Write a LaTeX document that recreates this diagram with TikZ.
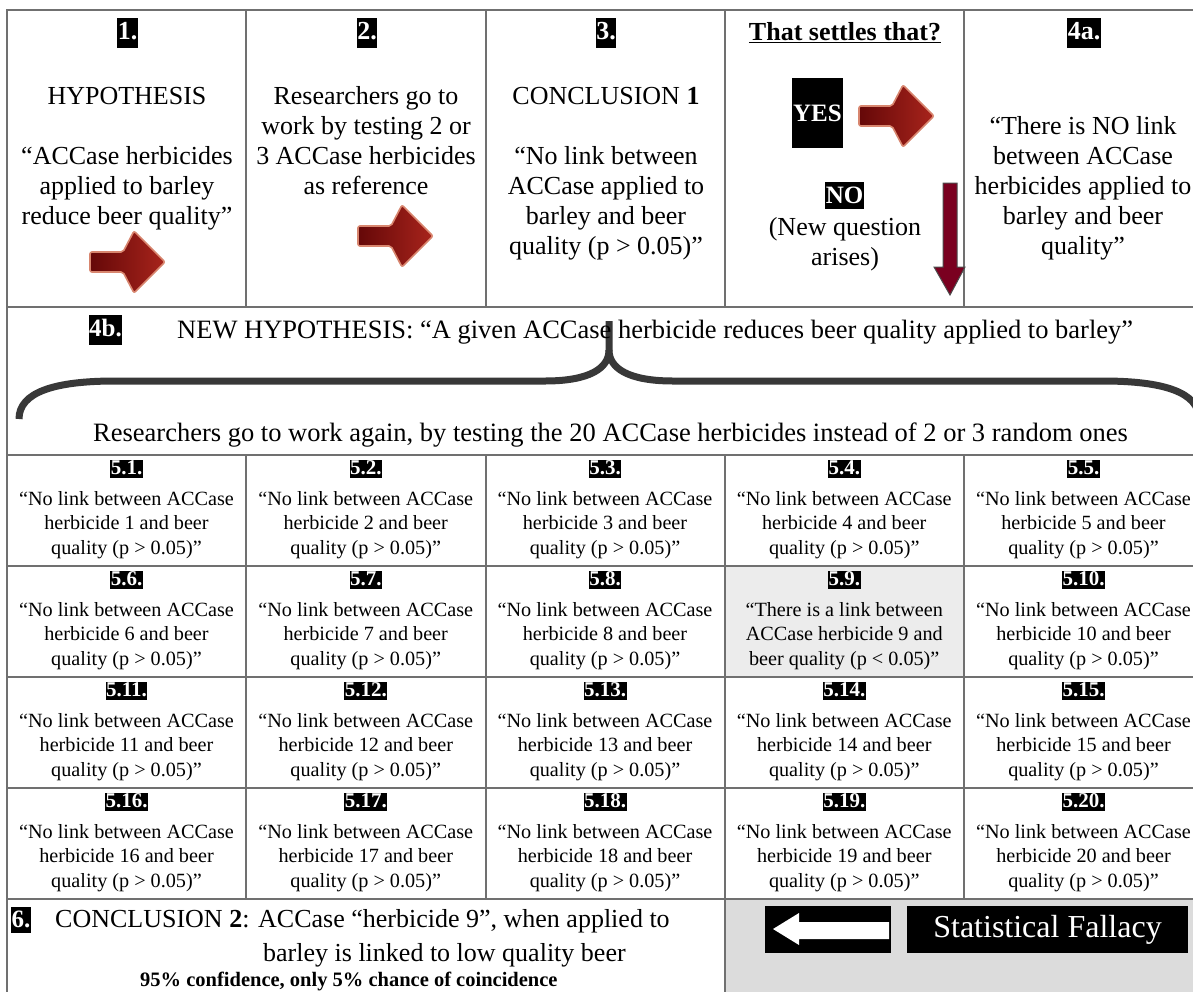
\documentclass[tikz,border=0pt]{standalone}
\usepackage{fontspec}
\setmainfont{Liberation Serif}
\definecolor{gridc}{HTML}{707070}
\definecolor{cellgray}{HTML}{ECECEC}
\definecolor{botgray}{HTML}{DCDCDC}
\definecolor{bracec}{HTML}{383838}
\definecolor{arrdark}{HTML}{650808}
\definecolor{arrlight}{HTML}{A8241C}
\definecolor{arredge}{HTML}{D8866F}
\definecolor{downred}{HTML}{7A0020}
\tikzset{
  gridline/.style={draw=gridc, line width=1.5pt},
  lbl/.style={fill=black, text=white, font=\bfseries\fontsize{26}{30}\selectfont, inner xsep=0.5pt, inner ysep=0pt, text height=21pt, text depth=9pt},
  slbl/.style={fill=black, text=white, font=\bfseries\fontsize{21}{24}\selectfont, inner xsep=0.5pt, inner ysep=0pt, text height=14.5pt, text depth=3pt},
  big/.style={font=\fontsize{26}{30}\selectfont, align=center, inner sep=0pt},
  cell/.style={font=\fontsize{20.2}{24.5}\selectfont, align=center, inner sep=0pt},
  wide/.style={font=\fontsize{26.5}{30}\selectfont, inner sep=0pt},
  redarrow/.pic={
    \path[left color=arrdark, right color=arrlight, draw=arredge, line width=1.6pt, rounded corners=2pt]
      (0,-10) -- (33,-10) -- (44,-31) -- (75,0) -- (44,31) -- (33,10) -- (0,10) -- cycle;
  }
}
\begin{document}
\begin{tikzpicture}[x=1pt,y=-1pt]
\useasboundingbox (0,0) rectangle (1193,991);
\begin{scope}
\clip (0,0) rectangle (1193,991);
% fills
\fill[cellgray] (725,566) rectangle (964,677);
\fill[botgray] (725,899) rectangle (1210,1000);
% grid
\draw[gridline] (7,1000) -- (7,10) -- (1210,10);
\foreach \yy in {307,455,566,677,788,899} \draw[gridline] (7,\yy) -- (1210,\yy);
\foreach \xx in {246,486,725,964} {
  \draw[gridline] (\xx,10) -- (\xx,307);
  \draw[gridline] (\xx,455) -- (\xx,899);
}
\draw[gridline] (725,899) -- (725,1000);
% brace
\draw[bracec, line width=7pt] (19,419) .. controls (19,392) and (55,381) .. (115,381) -- (545,381)
  .. controls (590,381) and (609,368) .. (609,350) -- (609,321);
\draw[bracec, line width=7pt] (609,350) .. controls (609,368) and (628,381) .. (673,381) -- (1103,381)
  .. controls (1163,381) and (1199,392) .. (1199,419);
% red arrows
\pic at (90,262) {redarrow};
\pic at (358,236) {redarrow};
\pic at (859,116) {redarrow};
\draw[fill=downred, draw=gray!60!black, line width=1pt] (943,183) -- (957,183) -- (957,267) -- (965,267) -- (950,295) -- (934,267) -- (943,267) -- cycle;
\end{scope}
% top row (anchor=base is the baseline of the last line)
\node[lbl] (l1) at (127.5,33) {1.};
\node[big, anchor=base] (t1a) at (127,104) {HYPOTHESIS};
\node[big, anchor=base] (t1b) at (127,224) {“ACCase herbicides\\applied to barley\\reduce beer quality”};
\node[lbl] (l2) at (367,33) {2.};
\node[big, anchor=base] (t2) at (366,194) {Researchers go to\\work by testing 2 or\\3 ACCase herbicides\\as reference};
\node[lbl] (l3) at (606,33) {3.};
\node[big, anchor=base] (t3a) at (606,104) {CONCLUSION \textbf{1}};
\node[big, anchor=base] (t3b) at (606,254) {“No link between\\ACCase applied to\\barley and beer\\quality (p > 0.05)”};
\node[big, font=\bfseries\fontsize{26}{30}\selectfont, anchor=base] (q) at (845,40) {\underline{That settles that?}};
\node[fill=black, text=white, font=\bfseries\fontsize{25}{25}\selectfont, minimum width=51pt, minimum height=70pt, inner sep=0pt] (yes) at (817.5,113) {YES};
\node[fill=black, text=white, font=\bfseries\fontsize{25}{25}\selectfont, minimum width=39pt, minimum height=27pt, inner sep=0pt] (no) at (844.5,195.5) {NO};
\node[big, anchor=base] (nq) at (845,265) {(New question\\arises)};
\node[lbl] (l4a) at (1084,33) {4a.};
\node[big, anchor=base] (t4a) at (1083,254) {“There is NO link\\between ACCase\\herbicides applied to\\barley and beer\\quality”};
% row 4b
\node[lbl, font=\bfseries\fontsize{25}{30}\selectfont] (l4b) at (105.5,330) {4b.};
\node[wide, anchor=base west] (nh) at (177,338) {NEW HYPOTHESIS: “A given ACCase herbicide reduces beer quality applied to barley”};
\node[wide, anchor=base west] (rg) at (93,441) {Researchers go to work again, by testing the 20 ACCase herbicides instead of 2 or 3 random ones};
% grid cells
\foreach \r in {0,...,3}{
  \foreach \c in {0,...,4}{
    \pgfmathtruncatemacro\n{\r*5+\c+1}
    \pgfmathsetmacro\cx{126.5+239.25*\c}
    \pgfmathsetmacro\ty{455+111*\r}
    \node[slbl] (g\n) at (\cx,\ty+14) {5.\n.};
    \ifnum\n=9
      \node[cell, anchor=base] (h\n) at (\cx,\ty+99) {“There is a link between\\ACCase herbicide 9 and\\beer quality (p < 0.05)”};
    \else
      \node[cell, anchor=base] (h\n) at (\cx,\ty+99) {“No link between ACCase\\herbicide \n{} and beer\\quality (p > 0.05)”};
    \fi
  }
}
% bottom row
\node[lbl, font=\bfseries\fontsize{25}{30}\selectfont, text height=20pt, text depth=6pt] (l6) at (21,920) {6.};
\node[wide, font=\fontsize{26}{30}\selectfont, anchor=base west] (c2a) at (55,927) {CONCLUSION \textbf{2}: ACCase “herbicide 9”, when applied to};
\node[wide, font=\fontsize{26}{30}\selectfont, anchor=base west] (c2b) at (263,961) {barley is linked to low quality beer};
\node[wide, font=\bfseries\fontsize{20.5}{24}\selectfont, anchor=base west] (c2c) at (140,986) {95\% confidence, only 5\% chance of coincidence};
\node[fill=black, minimum width=126pt, minimum height=47pt, inner sep=0pt] (ab) at (828,929.5) {};
\fill[white] (773,929) -- (799,913) -- (799,922) -- (889,922) -- (889,939) -- (799,939) -- (799,945) -- cycle;
\node[fill=black, text=white, minimum width=281pt, minimum height=47pt, inner sep=0pt, font=\fontsize{32}{32}\selectfont] (sf) at (1047.5,929.5) {Statistical Fallacy};
\end{tikzpicture}
\end{document}
